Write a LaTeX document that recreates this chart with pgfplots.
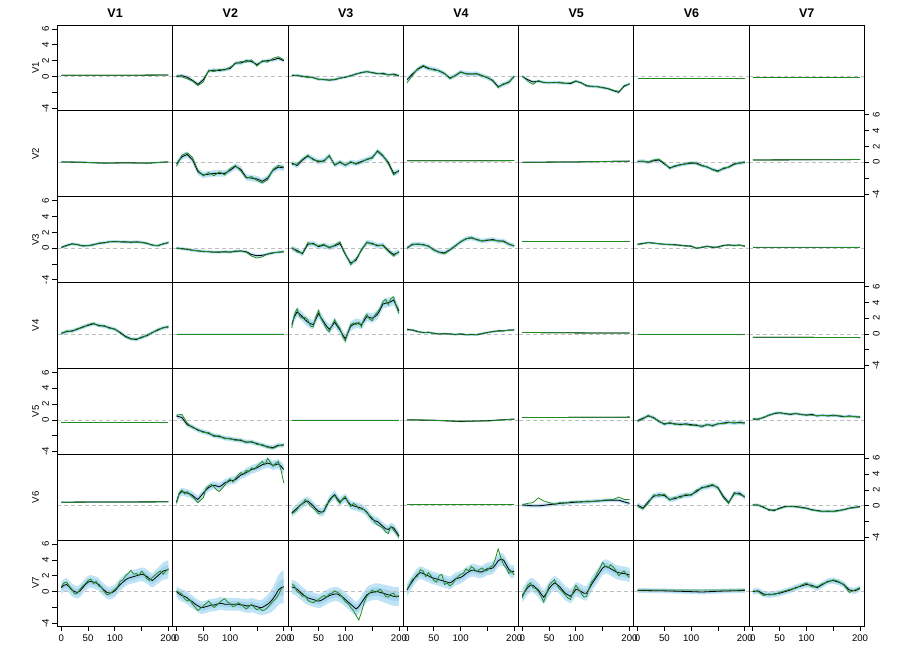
\documentclass[border=0pt]{standalone}
\usepackage{fontspec}
\setmainfont{Liberation Sans}
\usepackage{pgfplots}
\pgfplotsset{compat=1.18}
\usepackage{pgfplotstable}
\usepgfplotslibrary{groupplots,fillbetween}
\definecolor{bandblue}{RGB}{192,228,245}
\definecolor{bandin}{RGB}{165,213,238}
\definecolor{obsgreen}{RGB}{34,139,34}
\definecolor{zerogray}{RGB}{190,190,190}

\pgfplotsset{
  yL/.style={ytick={-4,-2,0,2,4,6}, yticklabels={-4,,0,2,4,6}, ytick pos=left, yticklabel pos=left, yticklabel style={rotate=90, anchor=south}},
  yR/.style={ytick={-4,-2,0,2,4,6}, yticklabels={-4,,0,2,4,6}, ytick pos=right, yticklabel pos=right, yticklabel style={rotate=90, anchor=north}},
  xB/.style={xtick={0,50,100,150,200}, xticklabels={0,50,100,,200}, xtick pos=left, xticklabel style={anchor=north}},
}

\newcommand{\panel}[1]{%
  \addplot[name path=up, draw=none, forget plot] table[x=x, y expr=\thisrow{m}+\thisrow{w}]{#1};
  \addplot[name path=lo, draw=none, forget plot] table[x=x, y expr=\thisrow{m}-\thisrow{w}]{#1};
  \addplot[bandblue, forget plot] fill between[of=up and lo];
  \addplot[name path=iup, draw=none, forget plot] table[x=x, y expr=\thisrow{m}+0.5*\thisrow{w}]{#1};
  \addplot[name path=ilo, draw=none, forget plot] table[x=x, y expr=\thisrow{m}-0.5*\thisrow{w}]{#1};
  \addplot[bandin, forget plot] fill between[of=iup and ilo];
  \addplot[zerogray, dash pattern=on 4pt off 3pt, line width=0.8pt, forget plot] coordinates {(-7,0) (208,0)};
  \addplot[black, line width=0.8pt, forget plot] table[x=x, y=m]{#1};
  \addplot[obsgreen, line width=0.8pt, forget plot] table[x=x, y=g]{#1};
}

% ---------------- Row 1 (V1) ----------------
\pgfplotstableread{
x m g w
0 0.15 0.15 0.05
100 0.15 0.15 0.05
200 0.18 0.18 0.05
}\dAA
\pgfplotstableread{
x m g w
0 0.0 0.1 0.25
10 0.1 -0.05 0.25
20 -0.1 -0.3 0.25
30 -0.5 -0.6 0.25
40 -1.0 -1.15 0.25
50 -0.4 -0.7 0.25
60 0.7 0.8 0.25
70 0.8 0.6 0.25
80 0.75 0.9 0.25
90 0.9 0.8 0.25
100 1.0 1.2 0.25
110 1.7 1.6 0.25
120 1.7 1.9 0.25
130 2.0 1.8 0.25
140 1.9 2.1 0.25
150 1.5 1.3 0.25
160 1.9 2.0 0.25
170 2.0 1.8 0.25
180 2.1 2.3 0.25
190 2.3 2.5 0.25
200 2.0 2.1 0.25
}\dAB
\pgfplotstableread{
x m g w
0 0.1 0.2 0.2
10 0.15 0.1 0.2
20 0.0 0.05 0.2
30 -0.05 -0.15 0.2
40 -0.15 -0.1 0.2
50 -0.35 -0.4 0.2
60 -0.4 -0.35 0.2
70 -0.45 -0.5 0.2
80 -0.4 -0.35 0.2
90 -0.2 -0.25 0.2
100 -0.1 -0.05 0.2
110 0.1 0.05 0.2
120 0.3 0.35 0.2
130 0.5 0.45 0.2
140 0.6 0.65 0.2
150 0.5 0.45 0.2
160 0.35 0.4 0.2
170 0.4 0.3 0.2
180 0.2 0.25 0.2
190 0.3 0.2 0.2
200 0.1 0.05 0.2
}\dAC
\pgfplotstableread{
x m g w
0 -0.4 -0.8 0.3
10 0.3 0.1 0.3
20 0.9 1.0 0.3
30 1.3 1.4 0.3
40 1.0 1.1 0.3
50 0.9 0.8 0.3
60 0.7 0.75 0.3
70 0.35 0.4 0.3
80 -0.2 -0.3 0.3
90 0.1 0.15 0.3
100 0.55 0.6 0.3
110 0.35 0.3 0.3
120 0.3 0.35 0.3
130 0.35 0.3 0.3
140 0.1 0.05 0.3
150 -0.15 -0.1 0.3
160 -0.5 -0.6 0.3
170 -1.3 -1.4 0.3
180 -1.0 -0.9 0.3
190 -0.7 -0.8 0.3
200 0.0 0.05 0.3
}\dAD
\pgfplotstableread{
x m g w
0 0.0 0.05 0.2
10 -0.4 -0.6 0.2
20 -0.7 -1.0 0.2
30 -0.6 -0.5 0.2
40 -0.75 -0.8 0.2
50 -0.8 -0.75 0.2
60 -0.75 -0.8 0.2
70 -0.8 -0.7 0.2
80 -0.85 -0.9 0.2
90 -0.9 -0.8 0.2
100 -0.6 -0.55 0.2
110 -0.8 -0.85 0.2
120 -1.2 -1.1 0.2
130 -1.25 -1.3 0.2
140 -1.3 -1.25 0.2
150 -1.4 -1.45 0.2
160 -1.55 -1.5 0.2
170 -1.8 -1.75 0.2
180 -2.0 -1.9 0.2
190 -1.2 -1.3 0.2
200 -0.95 -0.9 0.2
}\dAE
\pgfplotstableread{
x m g w
0 -0.25 -0.25 0.04
100 -0.25 -0.25 0.04
200 -0.25 -0.25 0.04
}\dAF
\pgfplotstableread{
x m g w
0 -0.15 -0.15 0.04
100 -0.15 -0.15 0.04
200 -0.15 -0.15 0.04
}\dAG

% ---------------- Row 2 (V2) ----------------
\pgfplotstableread{
x m g w
0 0.05 0.05 0.12
40 0.0 0.02 0.12
80 -0.1 -0.1 0.12
120 -0.05 -0.08 0.12
160 -0.1 -0.1 0.12
200 0.05 0.05 0.12
}\dBA
\pgfplotstableread{
x m g w
0 -0.2 -0.5 0.4
10 0.7 0.9 0.4
20 1.0 1.2 0.4
30 0.3 0.6 0.4
40 -1.2 -1.0 0.4
50 -1.6 -1.7 0.4
60 -1.5 -1.3 0.4
70 -1.4 -1.7 0.4
80 -1.4 -1.2 0.4
90 -1.4 -1.6 0.4
100 -1.0 -0.8 0.4
110 -0.5 -0.4 0.4
120 -0.9 -1.1 0.4
130 -1.9 -2.0 0.4
140 -2.0 -1.8 0.4
150 -2.1 -2.3 0.4
160 -2.4 -2.6 0.4
170 -2.0 -2.2 0.4
180 -1.0 -0.9 0.4
190 -0.6 -0.4 0.4
200 -0.7 -0.6 0.4
}\dBB
\pgfplotstableread{
x m g w
0 -0.1 -0.3 0.35
10 -0.4 -0.2 0.35
20 0.3 0.4 0.35
30 0.8 0.9 0.35
40 0.4 0.3 0.35
50 0.05 0.2 0.35
60 0.2 0.1 0.35
70 0.8 0.9 0.35
80 -0.3 -0.4 0.35
90 0.0 0.1 0.35
100 -0.35 -0.4 0.35
110 0.0 0.1 0.35
120 -0.15 -0.25 0.35
130 0.1 0.0 0.35
140 0.35 0.4 0.35
150 0.6 0.5 0.35
160 1.4 1.5 0.35
170 0.8 0.9 0.35
180 0.0 -0.2 0.35
190 -1.4 -1.6 0.35
200 -1.1 -1.0 0.35
}\dBC
\pgfplotstableread{
x m g w
0 0.2 0.2 0.05
100 0.2 0.2 0.05
200 0.22 0.22 0.05
}\dBD
\pgfplotstableread{
x m g w
0 0.0 0.0 0.1
100 0.05 0.05 0.1
200 0.15 0.15 0.1
}\dBE
\pgfplotstableread{
x m g w
0 0.1 0.15 0.25
10 0.15 0.1 0.25
20 0.0 0.05 0.25
30 0.2 0.3 0.25
40 0.3 0.4 0.25
50 -0.2 -0.1 0.25
60 -0.7 -0.8 0.25
70 -0.5 -0.4 0.25
80 -0.3 -0.35 0.25
90 -0.2 -0.15 0.25
100 -0.1 0.0 0.25
110 -0.1 -0.2 0.25
120 -0.4 -0.45 0.25
130 -0.6 -0.55 0.25
140 -0.9 -0.95 0.25
150 -1.1 -1.2 0.25
160 -0.8 -0.7 0.25
170 -0.6 -0.65 0.25
180 -0.2 -0.3 0.25
190 -0.1 -0.05 0.25
200 0.0 0.05 0.25
}\dBF
\pgfplotstableread{
x m g w
0 0.3 0.3 0.06
100 0.32 0.32 0.06
200 0.35 0.35 0.06
}\dBG

% ---------------- Row 3 (V3) ----------------
\pgfplotstableread{
x m g w
0 0.1 0.05 0.2
10 0.35 0.3 0.2
20 0.55 0.5 0.2
30 0.45 0.5 0.2
40 0.3 0.25 0.2
50 0.3 0.35 0.2
60 0.45 0.4 0.2
70 0.6 0.65 0.2
80 0.7 0.65 0.2
90 0.8 0.85 0.2
100 0.85 0.8 0.2
110 0.8 0.85 0.2
120 0.8 0.75 0.2
130 0.75 0.8 0.2
140 0.8 0.75 0.2
150 0.75 0.7 0.2
160 0.6 0.65 0.2
170 0.4 0.35 0.2
180 0.3 0.35 0.2
190 0.55 0.5 0.2
200 0.7 0.75 0.2
}\dCA
\pgfplotstableread{
x m g w
0 0.0 0.05 0.2
10 -0.05 -0.1 0.2
20 -0.15 -0.1 0.2
30 -0.25 -0.3 0.2
40 -0.35 -0.3 0.2
50 -0.4 -0.45 0.2
60 -0.45 -0.4 0.2
70 -0.5 -0.55 0.2
80 -0.5 -0.45 0.2
90 -0.45 -0.5 0.2
100 -0.5 -0.45 0.2
110 -0.4 -0.35 0.2
120 -0.35 -0.4 0.2
130 -0.45 -0.5 0.2
140 -0.8 -1.0 0.2
150 -0.95 -1.25 0.2
160 -0.9 -1.1 0.2
170 -0.75 -0.7 0.2
180 -0.6 -0.55 0.2
190 -0.5 -0.55 0.2
200 -0.45 -0.4 0.2
}\dCB
\pgfplotstableread{
x m g w
0 0.0 0.1 0.35
10 -0.3 -0.5 0.35
20 -0.7 -0.6 0.35
30 0.5 0.7 0.35
40 0.6 0.5 0.35
50 0.2 0.3 0.35
60 0.4 0.5 0.35
70 0.1 0.0 0.35
80 0.3 0.4 0.35
90 0.6 0.8 0.35
100 -0.8 -0.7 0.35
110 -1.9 -2.1 0.35
120 -1.5 -1.3 0.35
130 -0.2 -0.3 0.35
140 0.7 0.8 0.35
150 0.6 0.5 0.35
160 0.3 0.4 0.35
170 0.4 0.3 0.35
180 -0.3 -0.4 0.35
190 -0.8 -1.0 0.35
200 -0.5 -0.4 0.35
}\dCC
\pgfplotstableread{
x m g w
0 0.0 0.1 0.3
10 0.5 0.4 0.3
20 0.5 0.55 0.3
30 0.45 0.4 0.3
40 0.25 0.3 0.3
50 -0.2 -0.25 0.3
60 -0.5 -0.55 0.3
70 -0.6 -0.7 0.3
80 -0.2 -0.25 0.3
90 0.3 0.25 0.3
100 0.8 0.85 0.3
110 1.2 1.15 0.3
120 1.3 1.4 0.3
130 1.1 1.05 0.3
140 0.9 0.95 0.3
150 1.0 1.05 0.3
160 1.1 1.0 0.3
170 0.9 0.95 0.3
180 0.9 0.8 0.3
190 0.5 0.55 0.3
200 0.3 0.25 0.3
}\dCD
\pgfplotstableread{
x m g w
0 0.85 0.85 0.05
100 0.85 0.85 0.05
200 0.85 0.85 0.05
}\dCE
\pgfplotstableread{
x m g w
0 0.5 0.45 0.15
10 0.6 0.55 0.15
20 0.7 0.75 0.15
30 0.65 0.6 0.15
40 0.55 0.6 0.15
50 0.5 0.45 0.15
60 0.45 0.5 0.15
70 0.45 0.4 0.15
80 0.35 0.4 0.15
90 0.3 0.25 0.15
100 0.25 0.3 0.15
110 0.0 -0.05 0.15
120 0.1 0.15 0.15
130 0.25 0.2 0.15
140 0.1 0.15 0.15
150 0.15 0.1 0.15
160 0.35 0.3 0.15
170 0.4 0.45 0.15
180 0.35 0.3 0.15
190 0.4 0.35 0.15
200 0.25 0.3 0.15
}\dCF
\pgfplotstableread{
x m g w
0 0.15 0.15 0.04
100 0.15 0.15 0.04
200 0.15 0.15 0.04
}\dCG

% ---------------- Row 4 (V4) ----------------
\pgfplotstableread{
x m g w
0 0.1 0.0 0.25
10 0.3 0.4 0.25
20 0.4 0.3 0.25
30 0.6 0.7 0.25
40 0.9 0.8 0.25
50 1.1 1.2 0.25
60 1.3 1.4 0.25
70 1.1 1.0 0.25
80 1.0 1.1 0.25
90 0.8 0.7 0.25
100 0.6 0.65 0.25
110 0.2 0.1 0.25
120 -0.3 -0.4 0.25
130 -0.6 -0.65 0.25
140 -0.7 -0.6 0.25
150 -0.4 -0.5 0.25
160 -0.2 -0.1 0.25
170 0.2 0.15 0.25
180 0.5 0.6 0.25
190 0.8 0.75 0.25
200 0.9 1.0 0.25
}\dDA
\pgfplotstableread{
x m g w
0 0.0 0.0 0.04
100 0.0 0.0 0.04
200 0.0 0.0 0.04
}\dDB
\pgfplotstableread{
x m g w
0 1.2 0.8 0.6
5 2.2 2.5 0.6
10 2.8 3.2 0.6
15 2.5 2.2 0.6
20 2.2 2.0 0.6
25 1.8 2.1 0.6
30 1.5 1.8 0.6
35 1.3 1.0 0.6
40 1.2 0.9 0.6
45 1.9 2.2 0.6
50 2.6 3.0 0.6
55 2.0 1.9 0.6
60 1.5 1.3 0.6
65 1.0 0.6 0.6
70 0.6 0.3 0.6
75 1.0 1.1 0.6
80 1.5 1.8 0.6
85 1.0 1.2 0.6
90 0.5 0.7 0.6
95 -0.1 -0.3 0.6
100 -0.6 -0.9 0.6
105 0.2 0.3 0.6
110 1.0 1.2 0.6
115 1.2 1.4 0.6
120 1.4 1.2 0.6
125 1.3 1.5 0.6
130 1.2 0.9 0.6
135 1.7 2.0 0.6
140 2.2 2.5 0.6
145 2.1 1.9 0.6
150 2.0 1.7 0.6
155 2.2 2.4 0.6
160 2.5 2.8 0.6
165 3.1 3.3 0.6
170 3.8 4.1 0.6
175 3.9 4.4 0.6
180 4.0 3.7 0.6
185 4.1 4.5 0.6
190 4.3 4.7 0.6
195 3.6 3.5 0.6
200 2.9 2.6 0.6
}\dDC
\pgfplotstableread{
x m g w
0 0.6 0.5 0.15
10 0.5 0.55 0.15
20 0.3 0.35 0.15
30 0.2 0.15 0.15
40 0.2 0.25 0.15
50 0.1 0.05 0.15
60 0.0 0.05 0.15
70 0.05 0.0 0.15
80 0.0 0.05 0.15
90 -0.05 -0.1 0.15
100 0.0 0.05 0.15
110 -0.1 -0.05 0.15
120 -0.05 -0.1 0.15
130 -0.1 -0.05 0.15
140 0.05 0.1 0.15
150 0.2 0.15 0.15
160 0.3 0.35 0.15
170 0.4 0.35 0.15
180 0.4 0.45 0.15
190 0.5 0.45 0.15
200 0.5 0.55 0.15
}\dDD
\pgfplotstableread{
x m g w
0 0.2 0.2 0.05
100 0.15 0.15 0.05
200 0.12 0.12 0.05
}\dDE
\pgfplotstableread{
x m g w
0 0.0 0.0 0.03
100 0.0 0.0 0.03
200 0.0 0.0 0.03
}\dDF
\pgfplotstableread{
x m g w
0 -0.4 -0.4 0.04
100 -0.42 -0.42 0.04
200 -0.45 -0.45 0.04
}\dDG

% ---------------- Row 5 (V5) ----------------
\pgfplotstableread{
x m g w
0 -0.3 -0.3 0.04
100 -0.3 -0.3 0.04
200 -0.3 -0.3 0.04
}\dEA
\pgfplotstableread{
x m g w
0 0.5 0.6 0.3
10 0.3 0.7 0.3
20 -0.6 -0.4 0.3
30 -0.9 -1.0 0.3
40 -1.3 -1.2 0.3
50 -1.5 -1.6 0.3
60 -1.7 -1.6 0.3
70 -2.0 -2.1 0.3
80 -2.1 -2.0 0.3
90 -2.3 -2.4 0.3
100 -2.4 -2.3 0.3
110 -2.5 -2.6 0.3
120 -2.6 -2.5 0.3
130 -2.8 -2.9 0.3
140 -2.8 -2.7 0.3
150 -3.0 -3.1 0.3
160 -3.2 -3.1 0.3
170 -3.4 -3.5 0.3
180 -3.5 -3.6 0.3
190 -3.2 -3.3 0.3
200 -3.2 -3.1 0.3
}\dEB
\pgfplotstableread{
x m g w
0 0.0 0.0 0.03
100 0.0 0.0 0.03
200 0.0 0.0 0.03
}\dEC
\pgfplotstableread{
x m g w
0 0.0 0.05 0.1
50 -0.05 -0.05 0.1
100 -0.2 -0.15 0.1
150 -0.1 -0.15 0.1
200 0.1 0.1 0.1
}\dED
\pgfplotstableread{
x m g w
0 0.3 0.3 0.05
100 0.32 0.32 0.05
200 0.35 0.35 0.05
}\dEE
\pgfplotstableread{
x m g w
0 -0.1 -0.2 0.25
10 0.2 0.1 0.25
20 0.5 0.6 0.25
30 0.3 0.2 0.25
40 -0.2 -0.1 0.25
50 -0.5 -0.6 0.25
60 -0.4 -0.3 0.25
70 -0.5 -0.6 0.25
80 -0.6 -0.5 0.25
90 -0.5 -0.6 0.25
100 -0.6 -0.7 0.25
110 -0.7 -0.6 0.25
120 -0.8 -0.9 0.25
130 -0.6 -0.55 0.25
140 -0.7 -0.8 0.25
150 -0.5 -0.45 0.25
160 -0.4 -0.5 0.25
170 -0.3 -0.35 0.25
180 -0.4 -0.3 0.25
190 -0.3 -0.4 0.25
200 -0.4 -0.35 0.25
}\dEF
\pgfplotstableread{
x m g w
0 0.1 0.15 0.2
10 0.1 0.05 0.2
20 0.3 0.35 0.2
30 0.6 0.55 0.2
40 0.8 0.85 0.2
50 0.9 0.95 0.2
60 0.8 0.75 0.2
70 0.7 0.75 0.2
80 0.8 0.85 0.2
90 0.7 0.65 0.2
100 0.6 0.65 0.2
110 0.7 0.6 0.2
120 0.5 0.55 0.2
130 0.6 0.55 0.2
140 0.5 0.55 0.2
150 0.6 0.5 0.2
160 0.5 0.55 0.2
170 0.4 0.45 0.2
180 0.5 0.4 0.2
190 0.4 0.45 0.2
200 0.35 0.4 0.2
}\dEG

% ---------------- Row 6 (V6) ----------------
\pgfplotstableread{
x m g w
0 0.45 0.45 0.1
100 0.48 0.48 0.1
200 0.5 0.5 0.1
}\dFA
\pgfplotstableread{
x m g w
0 0.5 0.3 0.5
5 1.5 1.6 0.5
10 1.8 2.0 0.5
15 1.7 1.5 0.5
20 1.6 1.8 0.5
25 1.5 1.4 0.5
30 1.3 1.1 0.5
35 1.0 0.8 0.5
40 0.8 0.4 0.5
45 1.2 0.7 0.5
50 1.6 1.0 0.5
55 2.0 2.2 0.5
60 2.3 2.5 0.5
65 2.5 2.7 0.5
70 2.6 2.4 0.5
75 2.5 2.0 0.5
80 2.4 1.8 0.5
85 2.6 2.2 0.5
90 2.9 2.6 0.5
95 3.0 3.1 0.5
100 3.2 3.4 0.5
105 3.2 3.0 0.5
110 3.3 3.5 0.5
115 3.6 3.9 0.5
120 3.9 4.2 0.5
125 4.0 4.0 0.5
130 4.2 4.5 0.55
135 4.4 4.3 0.55
140 4.6 4.8 0.55
145 4.7 4.6 0.55
150 4.8 5.0 0.55
155 5.0 5.3 0.6
160 5.2 5.6 0.6
165 5.3 5.2 0.6
170 5.4 6.0 0.6
175 5.3 5.5 0.6
180 5.1 5.0 0.6
185 5.2 5.4 0.6
190 5.3 5.6 0.6
195 5.0 4.5 0.6
200 4.6 2.9 0.65
}\dFB
\pgfplotstableread{
x m g w
0 -0.9 -1.0 0.55
5 -0.6 -0.8 0.55
10 -0.3 -0.5 0.55
15 0.0 0.1 0.55
20 0.3 0.2 0.55
25 0.5 0.8 0.55
30 0.6 0.4 0.55
35 0.3 0.0 0.55
40 0.0 -0.3 0.55
45 -0.4 -0.6 0.55
50 -0.7 -1.0 0.55
55 -0.8 -0.9 0.55
60 -0.7 -0.6 0.55
65 0.0 0.2 0.55
70 0.7 0.5 0.55
75 1.1 1.0 0.55
80 1.4 1.3 0.55
85 0.9 0.7 0.55
90 0.5 0.3 0.55
95 0.8 0.9 0.55
100 1.0 1.2 0.55
105 0.5 0.4 0.55
110 0.1 -0.1 0.55
115 0.0 0.3 0.55
120 -0.1 0.1 0.55
125 -0.2 -0.4 0.55
130 -0.3 -0.4 0.55
135 -0.5 -0.5 0.55
140 -0.8 -0.9 0.55
145 -1.3 -1.2 0.55
150 -1.7 -1.5 0.55
155 -1.9 -2.1 0.55
160 -2.0 -2.4 0.55
165 -2.3 -2.6 0.55
170 -2.6 -2.8 0.55
175 -2.9 -3.3 0.55
180 -3.0 -3.5 0.55
185 -2.7 -2.6 0.55
190 -2.8 -3.1 0.55
195 -3.3 -3.5 0.55
200 -3.8 -4.0 0.55
}\dFC
\pgfplotstableread{
x m g w
0 0.15 0.15 0.06
100 0.15 0.15 0.06
200 0.15 0.15 0.06
}\dFD
\pgfplotstableread{
x m g w
0 0.1 0.1 0.25
10 0.05 0.3 0.25
20 0.0 0.4 0.25
30 0.0 1.0 0.25
40 0.05 0.6 0.25
50 0.15 0.4 0.25
60 0.2 0.2 0.25
70 0.3 0.4 0.25
80 0.35 0.35 0.25
90 0.4 0.5 0.25
100 0.45 0.5 0.25
110 0.5 0.45 0.25
120 0.5 0.6 0.25
130 0.55 0.55 0.25
140 0.6 0.6 0.25
150 0.65 0.7 0.25
160 0.7 0.75 0.25
170 0.7 0.8 0.25
180 0.7 1.1 0.25
190 0.5 0.8 0.25
200 0.3 0.8 0.25
}\dFE
\pgfplotstableread{
x m g w
0 0.1 -0.1 0.35
10 -0.3 -0.4 0.35
20 0.5 0.3 0.35
30 1.2 1.4 0.35
40 1.4 1.2 0.35
50 1.3 1.5 0.35
60 0.8 0.7 0.35
70 0.9 1.1 0.35
80 1.2 1.0 0.35
90 1.3 1.5 0.35
100 1.4 1.3 0.35
110 1.8 2.0 0.35
120 2.3 2.2 0.35
130 2.4 2.5 0.35
140 2.6 2.7 0.35
150 2.3 2.2 0.35
160 1.2 1.0 0.35
170 0.4 0.3 0.35
180 1.5 1.7 0.35
190 1.6 1.4 0.35
200 1.1 1.2 0.35
}\dFF
\pgfplotstableread{
x m g w
0 0.1 0.15 0.2
10 0.1 0.05 0.2
20 -0.2 -0.1 0.2
30 -0.5 -0.6 0.2
40 -0.6 -0.5 0.2
50 -0.3 -0.4 0.2
60 -0.1 -0.15 0.2
70 -0.1 -0.05 0.2
80 -0.1 -0.15 0.2
90 -0.2 -0.25 0.2
100 -0.3 -0.35 0.2
110 -0.5 -0.55 0.2
120 -0.6 -0.65 0.2
130 -0.7 -0.75 0.2
140 -0.7 -0.65 0.2
150 -0.7 -0.75 0.2
160 -0.6 -0.65 0.2
170 -0.5 -0.45 0.2
180 -0.3 -0.35 0.2
190 -0.2 -0.25 0.2
200 -0.1 -0.15 0.2
}\dFG

% ---------------- Row 7 (V7) ----------------
\pgfplotstableread{
x m g w
0 0.5 0.6 0.8
5 0.8 1.1 0.8
10 0.9 1.2 0.8
15 0.6 0.7 0.8
20 0.2 0.3 0.8
25 0.0 -0.3 0.8
30 -0.1 -0.2 0.8
35 0.1 0.3 0.8
40 0.5 0.7 0.8
45 0.9 1.0 0.8
50 1.2 1.4 0.8
55 1.3 1.6 0.8
60 1.2 1.0 0.8
65 1.1 1.3 0.8
70 0.9 0.7 0.8
75 0.5 0.6 0.8
80 0.2 0.0 0.8
85 -0.1 -0.4 0.8
90 -0.2 -0.3 0.8
95 -0.1 0.0 0.8
100 0.1 0.3 0.8
105 0.5 0.6 0.8
110 0.9 1.3 0.8
115 1.2 1.5 0.8
120 1.5 2.0 0.8
125 1.7 2.3 0.8
130 1.8 2.7 0.8
135 1.9 2.2 0.85
140 2.0 2.3 0.85
145 2.1 2.0 0.85
150 2.2 2.6 0.85
155 2.1 2.2 0.9
160 1.9 1.6 0.9
165 1.6 1.4 0.9
170 1.4 1.8 0.9
175 1.7 2.1 0.95
180 2.0 2.4 1.0
185 2.3 2.6 1.05
190 2.6 2.2 1.1
195 2.7 2.6 1.15
200 2.8 2.9 1.2
}\dGA
\pgfplotstableread{
x m g w
0 0.0 0.1 0.7
5 -0.3 -0.1 0.75
10 -0.5 -0.3 0.8
15 -0.6 -0.9 0.8
20 -0.8 -1.2 0.8
25 -1.1 -1.0 0.8
30 -1.3 -1.6 0.8
35 -1.6 -2.0 0.8
40 -1.8 -2.4 0.8
45 -2.0 -2.1 0.8
50 -2.0 -1.8 0.8
55 -1.9 -1.5 0.8
60 -1.8 -1.2 0.8
65 -1.7 -1.6 0.8
70 -1.7 -2.0 0.8
75 -1.6 -1.7 0.8
80 -1.5 -1.4 0.8
85 -1.5 -1.1 0.8
90 -1.6 -0.9 0.8
95 -1.6 -1.3 0.8
100 -1.6 -1.5 0.8
105 -1.6 -1.9 0.8
110 -1.6 -1.8 0.8
115 -1.6 -1.4 0.8
120 -1.7 -1.6 0.8
125 -1.7 -1.9 0.85
130 -1.8 -2.2 0.85
135 -1.8 -1.9 0.9
140 -1.7 -1.6 0.9
145 -1.8 -2.0 0.9
150 -1.9 -2.3 0.9
155 -2.0 -2.1 0.95
160 -2.0 -2.4 1.0
165 -1.8 -2.3 1.1
170 -1.6 -2.0 1.2
175 -1.3 -1.6 1.35
180 -0.9 -1.2 1.5
185 -0.4 -0.9 1.7
190 0.2 -0.4 1.9
195 0.5 0.3 2.0
200 0.6 0.7 2.1
}\dGB
\pgfplotstableread{
x m g w
0 0.6 1.0 0.9
5 0.5 0.7 0.9
10 0.3 0.0 0.9
15 0.0 -0.2 0.9
20 -0.3 -0.6 0.9
25 -0.6 -0.5 0.9
30 -0.8 -1.1 0.9
35 -0.9 -1.3 0.9
40 -1.0 -1.4 0.9
45 -1.1 -1.2 0.9
50 -1.2 -1.0 0.9
55 -1.1 -0.7 0.9
60 -0.9 -0.5 0.9
65 -0.7 -0.7 0.9
70 -0.5 -0.3 0.9
75 -0.4 -0.2 0.9
80 -0.3 0.1 0.9
85 -0.3 -0.1 0.9
90 -0.5 -0.3 0.9
95 -0.7 -0.8 0.9
100 -1.0 -1.3 0.9
105 -1.3 -1.5 0.9
110 -1.6 -2.0 0.9
115 -1.9 -2.4 0.9
120 -2.2 -3.0 0.9
125 -1.9 -3.6 0.9
130 -1.4 -2.6 0.9
135 -0.9 -1.4 0.95
140 -0.4 -0.6 0.95
145 -0.2 -0.2 1.0
150 -0.1 0.2 1.0
155 0.0 -0.1 1.05
160 0.0 0.1 1.05
165 -0.1 0.3 1.1
170 -0.2 -0.1 1.1
175 -0.3 -0.6 1.15
180 -0.4 -0.7 1.15
185 -0.5 -0.3 1.2
190 -0.6 -0.2 1.2
195 -0.6 -0.7 1.2
200 -0.6 -0.5 1.2
}\dGC
\pgfplotstableread{
x m g w
0 0.2 0.3 0.8
5 0.8 0.9 0.8
10 1.3 1.6 0.8
15 1.8 1.7 0.8
20 2.2 2.0 0.8
25 2.4 2.8 0.8
30 2.3 2.6 0.8
35 2.1 1.9 0.8
40 2.0 2.4 0.8
45 1.8 2.0 0.8
50 1.7 1.4 0.8
55 1.6 1.2 0.8
60 1.5 2.0 0.8
65 1.4 2.2 0.8
70 1.3 0.9 0.8
75 1.2 1.1 0.8
80 1.1 0.7 0.8
85 1.3 1.0 0.8
90 1.6 1.5 0.8
95 1.7 1.9 0.8
100 1.8 2.2 0.8
105 2.0 2.3 0.8
110 2.3 2.9 0.8
115 2.5 2.6 0.8
120 2.7 3.2 0.8
125 2.7 2.9 0.8
130 2.6 2.5 0.8
135 2.5 2.8 0.8
140 2.5 3.0 0.8
145 2.7 2.6 0.8
150 2.9 2.7 0.8
155 2.9 3.1 0.8
160 3.0 3.3 0.8
165 3.4 4.2 0.8
170 3.9 5.4 0.8
175 4.1 4.3 0.8
180 4.0 3.4 0.8
185 3.4 3.0 0.8
190 2.8 2.3 0.8
195 2.5 2.6 0.8
200 2.6 2.1 0.8
}\dGD
\pgfplotstableread{
x m g w
0 -0.5 -0.8 0.9
5 0.0 0.1 0.9
10 0.5 0.8 0.9
15 0.8 1.1 0.9
20 0.8 0.5 0.9
25 0.5 0.4 0.9
30 0.2 0.0 0.9
35 -0.3 -0.6 0.9
40 -0.7 -1.3 0.9
45 -0.2 -0.3 0.9
50 0.4 0.8 0.9
55 0.8 1.2 0.9
60 1.1 1.5 0.9
65 0.9 0.8 0.9
70 0.6 0.3 0.9
75 0.2 0.0 0.9
80 -0.2 -0.4 0.9
85 -0.4 -0.8 0.9
90 -0.6 -1.0 0.9
95 -0.2 0.1 0.9
100 0.3 0.8 0.9
105 0.2 0.3 0.9
110 0.0 -0.2 0.9
115 -0.2 -0.7 0.9
120 -0.2 -0.6 0.9
125 0.4 0.5 0.9
130 1.0 1.3 0.9
135 1.5 1.7 0.9
140 2.0 2.4 0.9
145 2.5 3.0 0.9
150 3.0 3.7 0.9
155 3.2 3.2 0.9
160 3.1 3.0 0.9
165 2.9 3.4 0.9
170 2.7 3.1 0.9
175 2.5 2.6 0.9
180 2.4 2.0 0.9
185 2.3 2.4 0.9
190 2.3 2.6 0.9
195 2.2 2.1 0.9
200 2.1 1.8 0.9
}\dGE
\pgfplotstableread{
x m g w
0 0.15 0.2 0.3
50 0.1 0.2 0.3
100 0.0 0.2 0.3
120 -0.05 0.2 0.3
150 0.05 0.2 0.3
200 0.15 0.22 0.3
}\dGF
\pgfplotstableread{
x m g w
0 0.0 0.1 0.4
10 0.1 0.0 0.4
20 -0.3 -0.5 0.4
30 -0.4 -0.3 0.4
40 -0.3 -0.4 0.4
50 -0.2 -0.1 0.4
60 0.0 0.1 0.4
70 0.2 0.3 0.4
80 0.5 0.4 0.4
90 0.7 0.8 0.4
100 0.9 1.1 0.4
110 0.8 0.6 0.4
120 0.5 0.6 0.4
130 0.9 1.0 0.4
140 1.3 1.2 0.4
150 1.4 1.5 0.4
160 1.2 1.3 0.4
170 0.9 0.8 0.4
180 0.2 -0.1 0.4
190 0.1 0.2 0.4
200 0.4 0.5 0.4
}\dGG

\begin{document}
\begin{tikzpicture}
\begin{groupplot}[
  group style={group size=7 by 7, horizontal sep=0pt, vertical sep=0pt},
  scale only axis, width=115.26pt, height=85.86pt,
  xmin=-7, xmax=208, ymin=-4.35, ymax=6.51,
  xtick=\empty, ytick=\empty,
  axis on top,
  axis line style={line width=0.8pt},
  tick style={line width=0.8pt, black},
  tick align=outside, major tick length=5pt,
  tick label style={font=\fontsize{9.6}{10}\selectfont},
]
% row 1
\nextgroupplot[yL]\panel{\dAA}
\nextgroupplot\panel{\dAB}
\nextgroupplot\panel{\dAC}
\nextgroupplot\panel{\dAD}
\nextgroupplot\panel{\dAE}
\nextgroupplot\panel{\dAF}
\nextgroupplot\panel{\dAG}
% row 2
\nextgroupplot\panel{\dBA}
\nextgroupplot\panel{\dBB}
\nextgroupplot\panel{\dBC}
\nextgroupplot\panel{\dBD}
\nextgroupplot\panel{\dBE}
\nextgroupplot\panel{\dBF}
\nextgroupplot[yR]\panel{\dBG}
% row 3
\nextgroupplot[yL]\panel{\dCA}
\nextgroupplot\panel{\dCB}
\nextgroupplot\panel{\dCC}
\nextgroupplot\panel{\dCD}
\nextgroupplot\panel{\dCE}
\nextgroupplot\panel{\dCF}
\nextgroupplot\panel{\dCG}
% row 4
\nextgroupplot\panel{\dDA}
\nextgroupplot\panel{\dDB}
\nextgroupplot\panel{\dDC}
\nextgroupplot\panel{\dDD}
\nextgroupplot\panel{\dDE}
\nextgroupplot\panel{\dDF}
\nextgroupplot[yR]\panel{\dDG}
% row 5
\nextgroupplot[yL]\panel{\dEA}
\nextgroupplot\panel{\dEB}
\nextgroupplot\panel{\dEC}
\nextgroupplot\panel{\dED}
\nextgroupplot\panel{\dEE}
\nextgroupplot\panel{\dEF}
\nextgroupplot\panel{\dEG}
% row 6
\nextgroupplot\panel{\dFA}
\nextgroupplot\panel{\dFB}
\nextgroupplot\panel{\dFC}
\nextgroupplot\panel{\dFD}
\nextgroupplot\panel{\dFE}
\nextgroupplot\panel{\dFF}
\nextgroupplot[yR]\panel{\dFG}
% row 7
\nextgroupplot[yL,xB]\panel{\dGA}
\nextgroupplot[xB]\panel{\dGB}
\nextgroupplot[xB]\panel{\dGC}
\nextgroupplot[xB]\panel{\dGD}
\nextgroupplot[xB]\panel{\dGE}
\nextgroupplot[xB]\panel{\dGF}
\nextgroupplot[xB]\panel{\dGG}
\end{groupplot}
\foreach \r in {1,...,7} {
  \node[rotate=90, anchor=base, font=\fontsize{9.6}{10}\selectfont] at ([xshift=-18.5pt]group c1r\r.west) {V\r};
}
\foreach \c in {1,...,7} {
  \node[anchor=base, font=\fontsize{12.5}{14}\selectfont\bfseries] at ([yshift=8pt]group c\c r1.north) {V\c};
}
\path ([shift={(-57.5pt,25pt)}]group c1r1.north west) rectangle ([shift={(35.7pt,-24pt)}]group c7r7.south east);
\end{tikzpicture}
\end{document}
